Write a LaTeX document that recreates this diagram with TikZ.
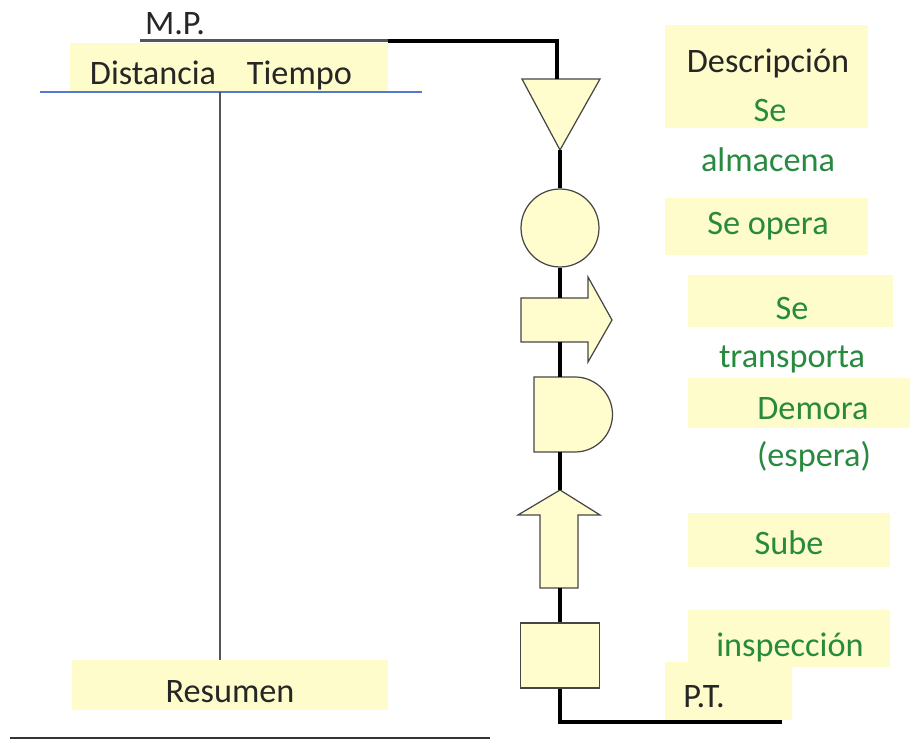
\documentclass[tikz,border=0pt]{standalone}
\usepackage{fontspec}
\setmainfont{Carlito}
\definecolor{boxyellow}{RGB}{253,252,202}
\definecolor{symyellow}{RGB}{255,253,205}
\definecolor{symgray}{RGB}{70,70,70}
\definecolor{actgreen}{RGB}{40,138,62}
\definecolor{linegray}{RGB}{85,85,85}
\definecolor{lineblue}{RGB}{85,120,210}

\begin{document}
\begin{tikzpicture}[x=0.02cm,y=-0.02cm,
  box/.style={fill=boxyellow},
  sym/.style={fill=symyellow,draw=symgray,line width=0.7pt},
  flow/.style={line width=2.3pt},
  lbl/.style={font=\fontsize{19.5}{23}\selectfont,inner sep=0,anchor=base,text=black!85},
  act/.style={lbl,text=actgreen}]
\useasboundingbox (0,0) rectangle (910,742);
    % yellow label backgrounds
\fill[box] (70,43) rectangle (388,92);
\fill[box] (72,660) rectangle (388,710);
\fill[box] (665,25) rectangle (868,128);
\fill[box] (665,198) rectangle (868,255);
\fill[box] (688,275) rectangle (893,327);
\fill[box] (688,378) rectangle (910,428);
\fill[box] (688,513) rectangle (890,567);
\fill[box] (688,610) rectangle (890,667);
\fill[box] (665,662) rectangle (792,720);
    % left table
\coordinate (mp-a) at (140,41);
\coordinate (mp-b) at (388,41);
\coordinate (hd-a) at (40,92);
\coordinate (hd-b) at (422,92);
\coordinate (col-n) at (220,92);
\coordinate (col-s) at (220,660);
\coordinate (ft-a) at (10,738);
\coordinate (ft-b) at (490,738);
\draw[linegray,line width=1.7pt] (mp-a) -- (mp-b);
\draw[lineblue,line width=0.7pt] (hd-a) -- (hd-b);
\draw[linegray,line width=1.3pt] (col-n) -- (col-s);
\draw[black!80,line width=1.2pt] (ft-a) -- (ft-b);
\node[lbl] (mp) at (175,35) {M.P.};
\node[lbl] (dt) at (221,85) {Distancia\hspace{0.9em}Tiempo};
\node[lbl] (res) at (230,703) {Resumen};
    % symbols
\draw[sym] (522,79) -- (600,79) -- (560,150) -- cycle;
\coordinate (almac-n) at (557,79);
\coordinate (almac-s) at (560,150);
\node[sym,circle,minimum size=1.56cm,inner sep=0] (opera) at (560,228) {};
\draw[sym] (521,298) -- (588,298) -- (588,277) -- (612,320) -- (588,362) -- (588,342) -- (521,342) -- cycle;
\coordinate (transp-n) at (560,298);
\coordinate (transp-s) at (560,342);
\draw[sym] (534,377) -- (575,377) arc (-90:90:37.5) -- (534,452) -- cycle;
\coordinate (demora-n) at (560,377);
\coordinate (demora-s) at (560,452);
\draw[sym] (540,588) -- (540,515) -- (518,515) -- (560,490) -- (600,515) -- (578,515) -- (578,588) -- cycle;
\coordinate (sube-n) at (560,490);
\coordinate (sube-s) at (560,588);
\node[sym,rectangle,minimum width=1.58cm,minimum height=1.3cm,inner sep=0] (inspec) at (560,655.5) {};
\coordinate (pt-e) at (782,722);
    % flow line
\draw[flow] (mp-b) -| (almac-n);
\draw[flow] (almac-s) -- (opera.north);
\draw[flow] (opera.south) -- (transp-n);
\draw[flow] (transp-s) -- (demora-n);
\draw[flow] (demora-s) -- (sube-n);
\draw[flow] (sube-s) -- (inspec.north);
\draw[flow] (inspec.south) |- (pt-e);
    % descriptions
\node[lbl] (desc) at (768,73) {Descripción};
\node[act] (t-se1) at (770,122) {Se};
\node[act] (t-almac) at (768,172) {almacena};
\node[act] (t-opera) at (768,235) {Se opera};
\node[act] (t-se2) at (792,320) {Se};
\node[act] (t-transp) at (792,368) {transporta};
\node[act] (t-demora) at (813,420) {Demora};
\node[act] (t-espera) at (814,467) {(espera)};
\node[act] (t-sube) at (789,555) {Sube};
\node[act] (t-inspec) at (790,657) {inspección};
\node[lbl,anchor=base west] (pt) at (683,708) {P.T.};
\end{tikzpicture}
\end{document}
